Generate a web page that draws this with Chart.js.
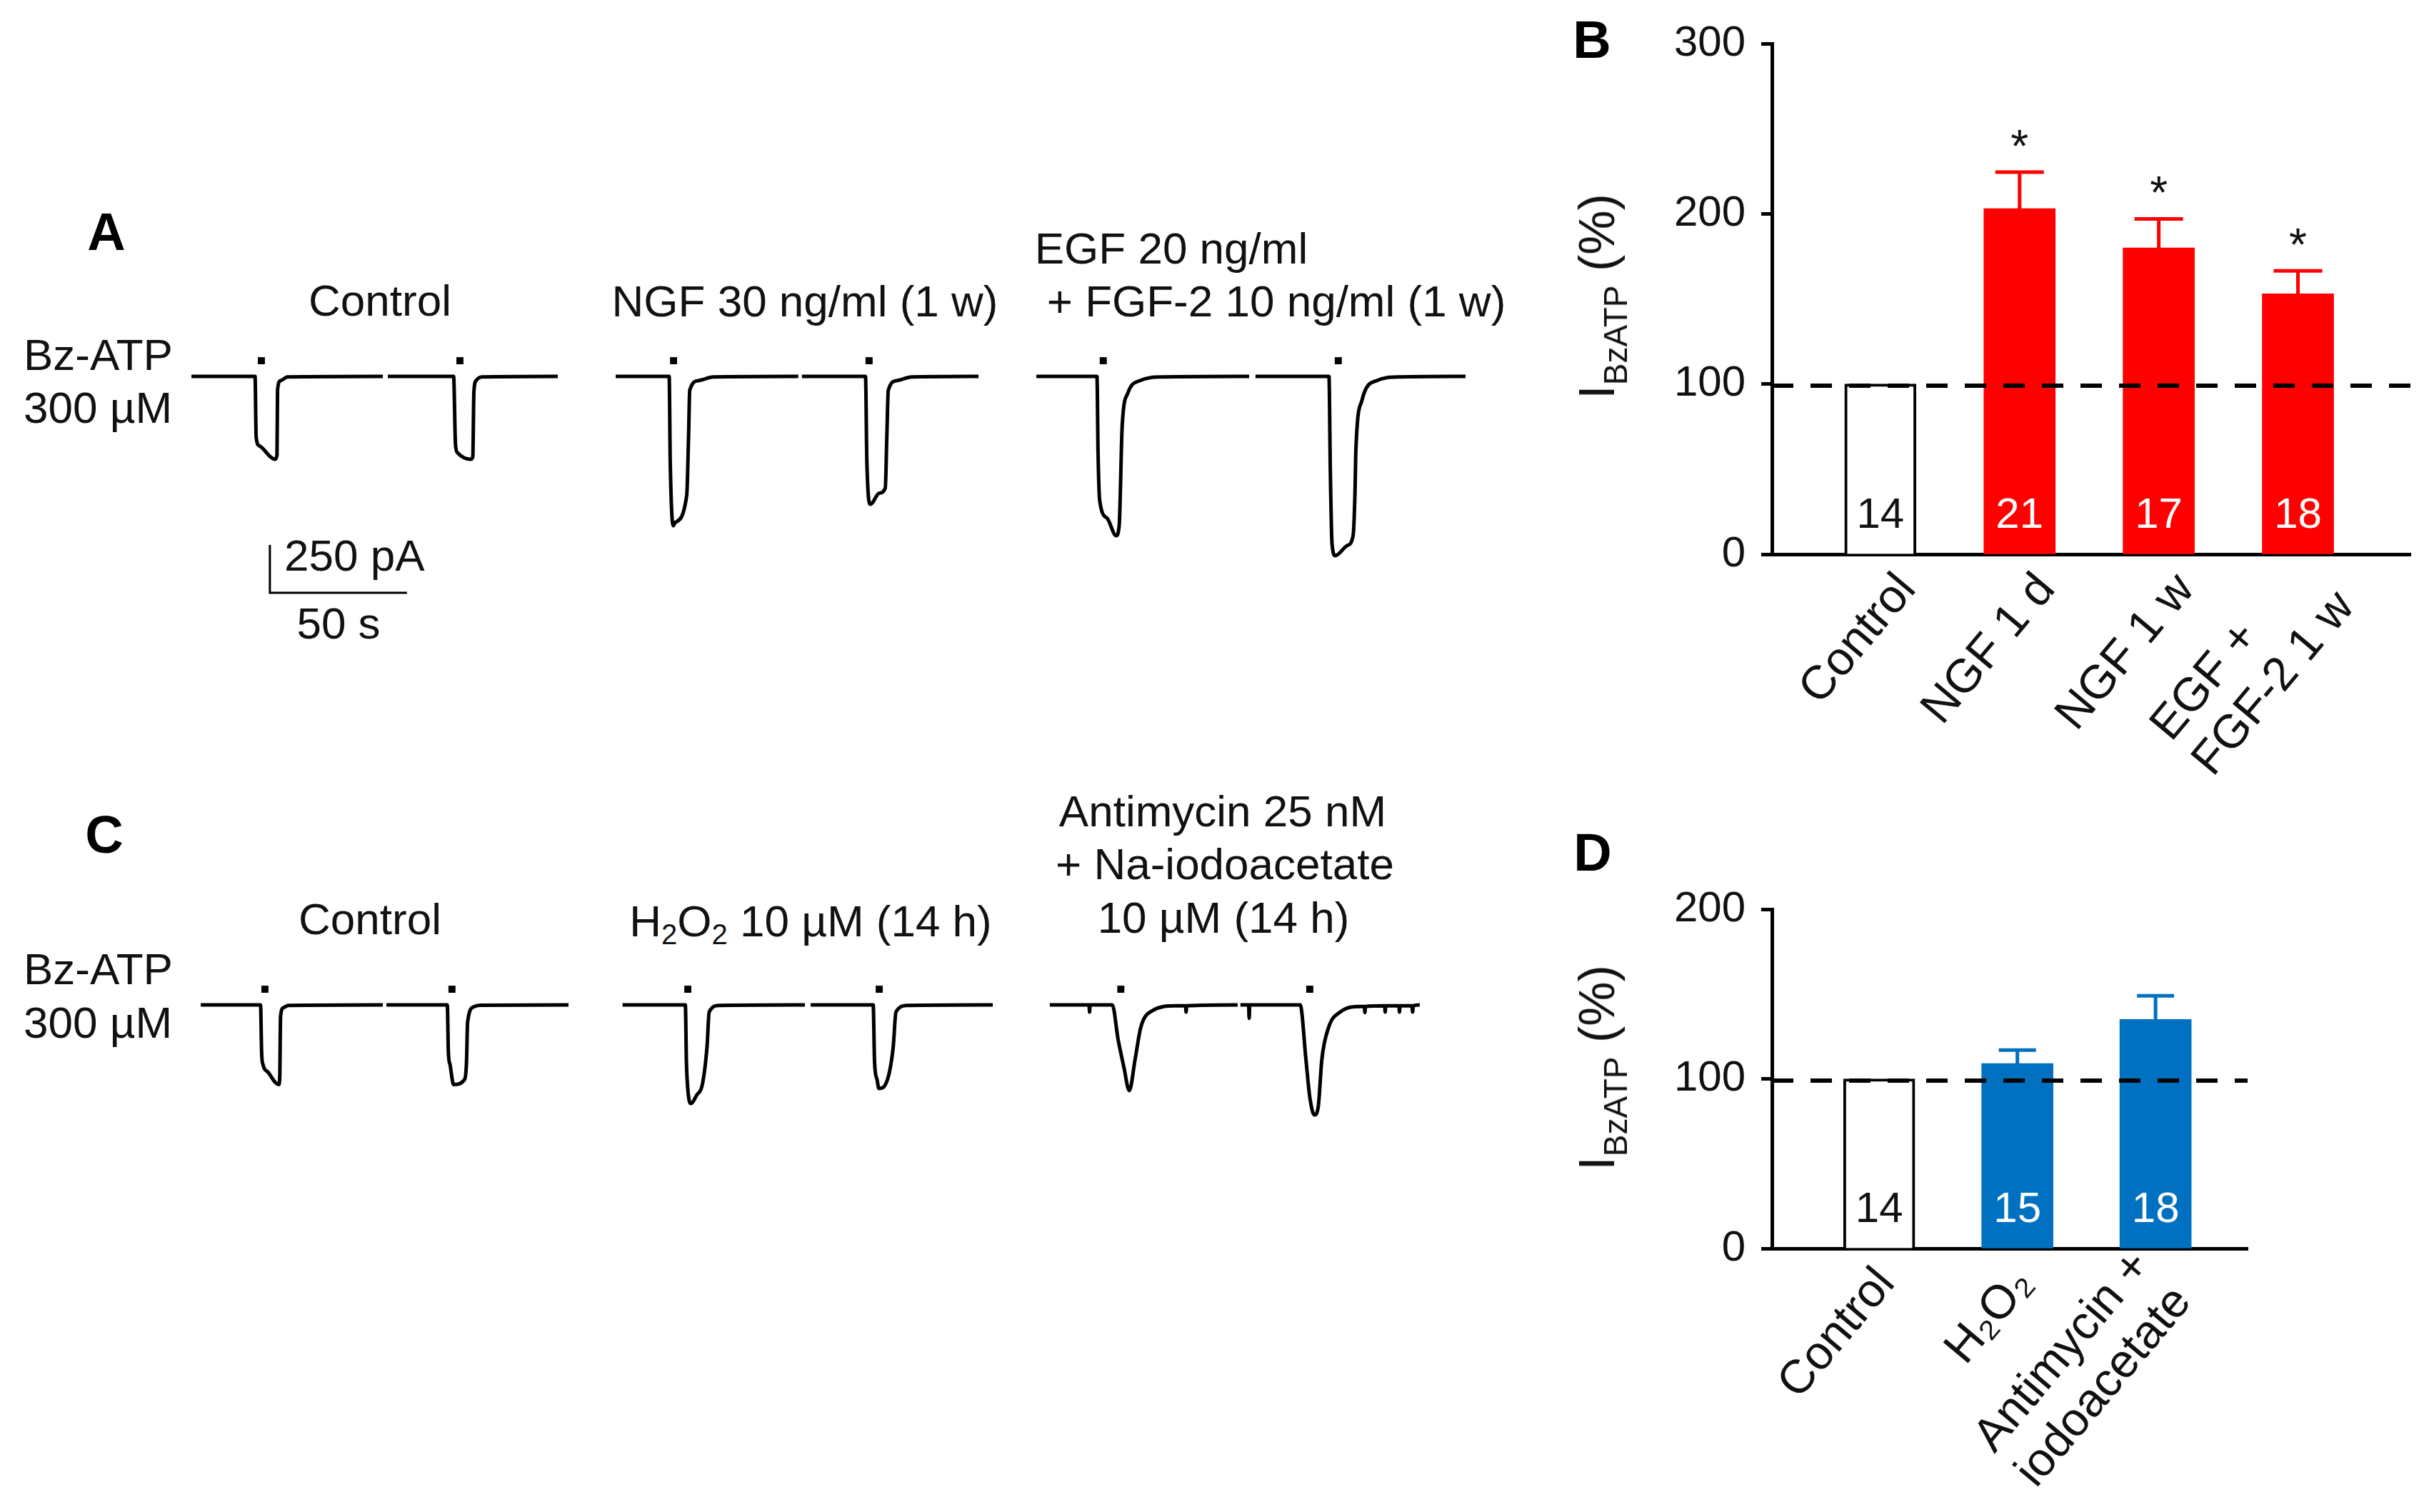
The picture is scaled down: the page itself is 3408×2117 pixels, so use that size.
<!DOCTYPE html>
<html>
<head>
<meta charset="utf-8">
<script src="https://cdn.jsdelivr.net/npm/chart.js@4.4.1/dist/chart.umd.min.js"></script>
<style>
  body { margin: 0; background: #fff; }
  #page { position: relative; width: 3408px; height: 2117px; overflow: hidden;
          font-family: "Liberation Sans", Arial, sans-serif; color: #111; }
  canvas { position: absolute; }
  .t { position: absolute; white-space: nowrap; line-height: 1; font-size: 62px;
       transform: translate(-50%, -50%); }
  .l { transform: translate(0, -50%); }
  .panel { font-weight: bold; font-size: 74px; color: #000; }
  .t sub { font-size: 40px; vertical-align: baseline; position: relative; top: 11px; }
  .ytitle { position: absolute; white-space: nowrap; line-height: 1; font-size: 70px;
            transform: translate(-50%, -50%) rotate(-90deg); }
  .ytitle sub { font-size: 46px; vertical-align: baseline; position: relative; top: 18px; }
</style>
</head>
<body>
<div id="page">
  <canvas id="trA" width="1850" height="400" style="left:250px;top:470px"></canvas>
  <canvas id="trC" width="1850" height="250" style="left:250px;top:1340px"></canvas>
  <canvas id="barB" width="1258" height="1140" style="left:2150px;top:0px"></canvas>
  <canvas id="barD" width="1258" height="967" style="left:2150px;top:1150px"></canvas>

  <div class="t panel" style="left:149px;top:325px">A</div>
  <div class="t panel" style="left:2229px;top:56px">B</div>
  <div class="t panel" style="left:146px;top:1169px">C</div>
  <div class="t panel" style="left:2230px;top:1194px">D</div>

  <div class="t l" style="left:33px;top:497px">Bz-ATP</div>
  <div class="t l" style="left:33px;top:571px">300 µM</div>
  <div class="t" style="left:532px;top:421px">Control</div>
  <div class="t" style="left:1127px;top:422px">NGF 30 ng/ml (1 w)</div>
  <div class="t" style="left:1640px;top:348px">EGF 20 ng/ml</div>
  <div class="t" style="left:1787px;top:422px">+ FGF-2 10 ng/ml (1 w)</div>
  <div class="t l" style="left:398px;top:778px">250 pA</div>
  <div class="t" style="left:474px;top:873px">50 s</div>

  <div class="t l" style="left:33px;top:1357px">Bz-ATP</div>
  <div class="t l" style="left:33px;top:1432px">300 µM</div>
  <div class="t" style="left:518px;top:1287px">Control</div>
  <div class="t" style="left:1135px;top:1290px">H<sub>2</sub>O<sub>2</sub> 10 µM (14 h)</div>
  <div class="t" style="left:1712px;top:1136px">Antimycin 25 nM</div>
  <div class="t" style="left:1715px;top:1210px">+ Na-iodoacetate</div>
  <div class="t" style="left:1713px;top:1285px">10 µM (14 h)</div>

  <div class="ytitle" style="left:2236px;top:415px">I<sub>BzATP</sub> (%)</div>
  <div class="ytitle" style="left:2236px;top:1495px">I<sub>BzATP</sub> (%)</div>
</div>
<script>
// ---- panel B: relative Bz-ATP current, growth factors ----
const labelsB = ['Control', 'NGF 1 d', 'NGF 1 w', ['EGF +', 'FGF-2 1 w']];
const meanB = [100, 203, 180, 153];
const semB = [0, 21.5, 17, 13.5];
const nB = [14, 21, 17, 18];
const sigB = [false, true, true, true];

// ---- panel D: relative Bz-ATP current, oxidative stress ----
const labelsD = ['Control', 'H\u2082O\u2082', ['Antimycin +', 'iodoacetate']];
const meanD = [100, 109, 135];
const semD = [0, 8, 14];
const nD = [14, 15, 18];
const sigD = [false, false, false];

const refLevel = 99;

// ---- current traces, [time s, current pA] ----
const ctrlA1 = [[4.7,0],[27.9,0],[28.3,-317],[29.5,-363],[35.2,-433],[35.9,-410],[36.1,-69],[37.2,-22],[39.8,-3],[74.5,0]];
const ctrlA2 = [[76.3,0],[100.3,0],[101.0,-360],[101.8,-400],[106.5,-433],[107.3,-420],[107.7,-80],[108.6,-20],[110.5,-3],[138.3,0]];
const ngfA1 = [[159.4,0],[178.9,0],[179.3,-450],[180.4,-780],[181.0,-765],[185.3,-623],[186.0,-300],[186.4,-73],[189.6,-22],[195.0,-3],[226.0,0]];
const ngfA2 = [[227.3,0],[250.5,0],[251.0,-450],[252.3,-668],[255.5,-610],[257.7,-584],[258.3,-300],[258.8,-73],[262.0,-22],[267.4,-3],[291.7,0]];
const egfA1 = [[312.8,0],[334.9,0],[335.3,-400],[335.9,-649],[338.6,-741],[341.9,-832],[343.0,-780],[344.1,-257],[346.2,-86],[350.5,-22],[358.9,-3],[390.4,0]];
const egfA2 = [[392.7,0],[419.5,0],[420.0,-500],[420.6,-872],[421.8,-937],[426.1,-884],[428.3,-832],[429.0,-600],[429.3,-388],[431.5,-126],[436.9,-22],[445.2,-3],[469.3,0]];
const appA = [30.2, 102.6, 180.5, 251.8, 337.2, 422.9];

const ctrlC1 = [[8.1,0],[29.9,0],[30.3,-250],[30.8,-312],[32.6,-351],[36.5,-416],[36.9,-380],[37.2,-60],[38.2,-15],[40.1,-3],[74.5,0]];
const ctrlC2 = [[75.8,0],[98.0,0],[98.4,-250],[99.0,-312],[100.3,-416],[104.3,-390],[105.0,-300],[105.4,-90],[107.6,-10],[110.0,-2],[142.2,0]];
const h2o2C1 = [[161.9,0],[184.8,0],[185.2,-300],[185.8,-455],[186.8,-515],[189.0,-470],[191.0,-416],[192.7,-220],[193.5,-37],[197.1,-3],[228.4,0]];
const h2o2C2 = [[230.5,0],[253.3,0],[253.8,-300],[254.7,-390],[255.4,-437],[258.5,-390],[260.6,-220],[261.6,-37],[265.8,-3],[296.9,0]];
const antiC1 = [[317.7,0],[332.0,0],[332.2,-37],[332.4,0],[340.5,0],[342.6,-180],[344.7,-324],[346.7,-448],[348.8,-285],[350.9,-116],[355.1,-30],[363.4,-5],[367.2,-5],[367.4,-37],[367.6,-5],[386.2,0]];
const antiC2 = [[387.2,0],[390.2,0],[390.4,-70],[390.6,0],[409.0,0],[411.1,-285],[412.5,-481],[414.2,-575],[415.6,-530],[416.9,-285],[419.4,-116],[423.6,-37],[431.0,-8],[432.4,-8],[432.6,-40],[432.8,-8],[439.8,-5],[440.0,-37],[440.2,-5],[445.0,-5],[445.2,-37],[445.4,-5],[449.8,-5],[450.0,-37],[450.2,-5],[452.6,0]];
const appC = [31.5, 99.7, 185.7, 255.5, 343.6, 412.5];

const appLevel = 82;           // pA, drawn above the baseline
const scaleOrigin = [33.3, -1131];
const scaleSize = [50, 250];   // 50 s, 250 pA

const FONT = 'Liberation Sans';

function traceChart(id, sweeps, apps, xmax, ymin, ymax, withScale) {
  const datasets = sweeps.map(s => ({
    data: s.map(p => ({x: p[0], y: p[1]})),
    borderColor: '#000', borderWidth: 5, pointRadius: 0,
    cubicInterpolationMode: 'monotone', fill: false
  }));
  datasets.push({
    data: apps.map(t => ({x: t, y: appLevel})),
    showLine: false, pointStyle: 'rect', pointRadius: 7,
    backgroundColor: '#000', borderColor: '#000', borderWidth: 0
  });
  if (withScale) {
    datasets.push({
      data: [
        {x: scaleOrigin[0], y: scaleOrigin[1] + scaleSize[1]},
        {x: scaleOrigin[0], y: scaleOrigin[1]},
        {x: scaleOrigin[0] + scaleSize[0], y: scaleOrigin[1]}
      ],
      borderColor: '#000', borderWidth: 3, pointRadius: 0, tension: 0
    });
  }
  new Chart(document.getElementById(id), {
    type: 'line',
    data: {datasets},
    options: {
      responsive: false, animation: false, events: [],
      layout: {padding: 0, autoPadding: false},
      plugins: {legend: {display: false}, tooltip: {enabled: false}},
      scales: {
        x: {type: 'linear', display: false, min: 0, max: xmax},
        y: {type: 'linear', display: false, min: ymin, max: ymax}
      }
    }
  });
}

traceChart('trA', [ctrlA1, ctrlA2, ngfA1, ngfA2, egfA1, egfA2], appA, 481.8, -1279.9, 212.7, true);
traceChart('trC', [ctrlC1, ctrlC2, h2o2C1, h2o2C2, antiC1, antiC2], appC, 481.8, -682.8, 250, false);

// error bars, n, asterisks, 100 % line and the slanted category labels
function annotations(labels, mean, sem, n, sig, capW, lblDx, lblDy) {
  return {
    id: 'annot',
    afterDatasetsDraw(chart) {
      const {ctx, scales: {x, y}} = chart;
      ctx.save();
      const colors = chart.data.datasets[0].backgroundColor;
      mean.forEach((m, i) => {
        const xc = x.getPixelForValue(i);
        const yb = y.getPixelForValue(m);
        const yt = y.getPixelForValue(m + sem[i]);
        if (sem[i] > 0) {
          ctx.strokeStyle = colors[i];
          ctx.lineWidth = 5;
          ctx.beginPath();
          ctx.moveTo(xc, yb); ctx.lineTo(xc, yt);
          ctx.moveTo(xc - capW / 2, yt); ctx.lineTo(xc + capW / 2, yt);
          ctx.stroke();
        }
        if (sig[i]) {
          ctx.fillStyle = '#111';
          ctx.font = '64px "' + FONT + '"';
          ctx.textAlign = 'center';
          ctx.textBaseline = 'alphabetic';
          ctx.fillText('*', xc, yt - 14);
        }
        ctx.fillStyle = i === 0 ? '#111' : '#fff';
        ctx.font = '60px "' + FONT + '"';
        ctx.textAlign = 'center';
        ctx.textBaseline = 'middle';
        ctx.fillText(String(n[i]), xc, y.getPixelForValue(0) - 54);
      });
      const yr = y.getPixelForValue(refLevel);
      ctx.strokeStyle = '#000';
      ctx.lineWidth = 6;
      ctx.setLineDash([30, 24]);
      ctx.beginPath();
      ctx.moveTo(x.left, yr); ctx.lineTo(x.right, yr);
      ctx.stroke();
      ctx.setLineDash([]);

      // category labels, slanted, lines left aligned inside a right-anchored block
      ctx.font = '66px "' + FONT + '"';
      ctx.fillStyle = '#111';
      ctx.textAlign = 'left';
      ctx.textBaseline = 'middle';
      const lh = 76;
      labels.forEach((lab, i) => {
        const lines = Array.isArray(lab) ? lab : [lab];
        const w = Math.max(...lines.map(s => ctx.measureText(s).width));
        ctx.save();
        ctx.translate(x.getPixelForValue(i) + lblDx, x.top + lblDy);
        ctx.rotate(-50 * Math.PI / 180);
        lines.forEach((s, k) => ctx.fillText(s, -w, (k - (lines.length - 1) / 2) * lh));
        ctx.restore();
      });
      ctx.restore();
    }
  };
}

function barChart(id, labels, mean, sem, n, sig, fill, ymax, xmin, xmax, axW, axH, padTop, padRight, capW, lblDx, lblDy) {
  new Chart(document.getElementById(id), {
    type: 'bar',
    data: {
      datasets: [{
        data: mean.map((v, i) => ({x: i, y: v})),
        backgroundColor: mean.map((v, i) => i === 0 ? '#fff' : fill),
        borderColor: '#000',
        borderWidth: mean.map((v, i) => i === 0 ? 4 : 0),
        borderSkipped: 'start',
        barThickness: 100
      }]
    },
    options: {
      responsive: false, animation: false, events: [],
      layout: {padding: {top: padTop, right: padRight, left: 0, bottom: 0}, autoPadding: false},
      plugins: {legend: {display: false}, tooltip: {enabled: false}},
      scales: {
        x: {
          type: 'linear', min: xmin, max: xmax, bounds: 'data', offset: false,
          grid: {display: false, drawTicks: false},
          border: {display: true, width: 5, color: '#000'},
          afterBuildTicks: s => { s.ticks = labels.map((l, i) => ({value: i})); },
          ticks: {display: false},
          afterFit: s => { s.height = axH; }
        },
        y: {
          min: 0, max: ymax, bounds: 'data',
          grid: {display: true, drawOnChartArea: false, drawTicks: true, tickLength: 15, tickWidth: 5, tickColor: '#000'},
          border: {display: true, width: 5, color: '#000'},
          ticks: {stepSize: 100, padding: 22, color: '#111', font: {family: FONT, size: 60}},
          afterFit: s => { s.width = axW; }
        }
      }
    },
    plugins: [annotations(labels, mean, sem, n, sig, capW, lblDx, lblDy)]
  });
}

barChart('barB', labelsB, meanB, semB, nB, sigB, '#ff0000', 300, -0.779, 3.808, 331, 364, 61, 33, 68, 38, 38);
barChart('barD', labelsD, meanD, semD, nD, sigD, '#0070c0', 200, -0.776, 2.666, 331, 369, 123, 261, 52, 10, 38);
</script>
</body>
</html>
